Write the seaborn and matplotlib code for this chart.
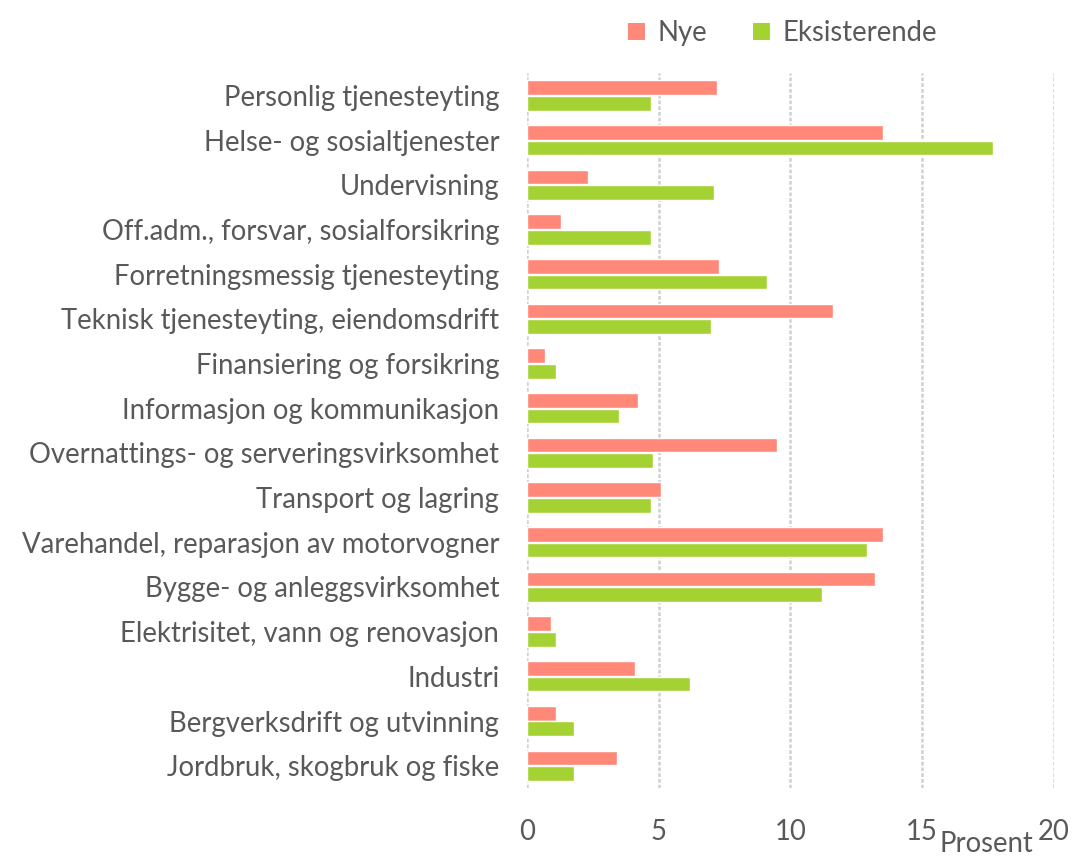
import pandas as pd
import matplotlib.pyplot as plt
import seaborn as sns
from matplotlib.patches import Patch

# Næringer, ovenfra og ned slik de vises i figuren
naeringer = [
    "Personlig tjenesteyting",
    "Helse- og sosialtjenester",
    "Undervisning",
    "Off.adm., forsvar, sosialforsikring",
    "Forretningsmessig tjenesteyting",
    "Teknisk tjenesteyting, eiendomsdrift",
    "Finansiering og forsikring",
    "Informasjon og kommunikasjon",
    "Overnattings- og serveringsvirksomhet",
    "Transport og lagring",
    "Varehandel, reparasjon av motorvogner",
    "Bygge- og anleggsvirksomhet",
    "Elektrisitet, vann og renovasjon",
    "Industri",
    "Bergverksdrift og utvinning",
    "Jordbruk, skogbruk og fiske",
]
nye = [7.2, 13.5, 2.3, 1.3, 7.3, 11.6, 0.7, 4.2, 9.5, 5.1, 13.5, 13.2, 0.9, 4.1, 1.1, 3.4]
eksisterende = [4.7, 17.7, 7.1, 4.7, 9.1, 7.0, 1.1, 3.5, 4.8, 4.7, 12.9, 11.2, 1.1, 6.2, 1.8, 1.8]
serier = ["Nye", "Eksisterende"]
farger = ["#FF8878", "#A5D233"]
x_ticks = [0, 5, 10, 15, 20]

df = pd.DataFrame({
    "naering": naeringer * 2,
    "verdi": nye + eksisterende,
    "serie": [serier[0]] * len(naeringer) + [serier[1]] * len(naeringer),
})

sns.set_style("white")
plt.rcParams["font.family"] = ["Lato", "DejaVu Sans"]
tekstfarge = "#595959"
fs = 19.8

fig = plt.figure(figsize=(10.72, 8.59), dpi=100)
ax = fig.add_axes([0.4916, 0.0826, 0.4916, 0.8324])

sns.barplot(
    data=df, y="naering", x="verdi", hue="serie", order=naeringer,
    hue_order=serier, palette=farger, saturation=1, orient="h", width=0.7,
    gap=0.06, edgecolor="white", linewidth=1, legend=False, ax=ax, zorder=3,
)

ax.set_xlim(0, 20)
ax.set_ylim(len(naeringer) - 0.5, -0.5)
ax.set_xticks(x_ticks)
ax.set_xticklabels([str(t) for t in x_ticks])
ax.grid(axis="x", color="#D0D0D0", linestyle=(0, (1.5, 0.8)), linewidth=1.8, zorder=0)
ax.grid(axis="y", visible=False)
for s in ax.spines.values():
    s.set_visible(False)
ax.tick_params(axis="x", length=0, pad=22, labelsize=fs, labelcolor=tekstfarge)
ax.tick_params(axis="y", length=0, pad=20, labelsize=fs, labelcolor=tekstfarge)
ax.set_xlabel("")
ax.set_ylabel("")

fig.text(0.92, 0.002, "Prosent", fontsize=fs, color=tekstfarge, ha="center", va="bottom")

handles = [Patch(facecolor=f, edgecolor="none") for f in farger]
fig.legend(
    handles, serier, loc="upper center", bbox_to_anchor=(0.73, 1.005), ncol=2,
    frameon=False, fontsize=fs, labelcolor=tekstfarge, handlelength=0.6,
    handleheight=0.6, handletextpad=0.45, columnspacing=1.7,
)

fig.savefig("out.png", dpi=100)
